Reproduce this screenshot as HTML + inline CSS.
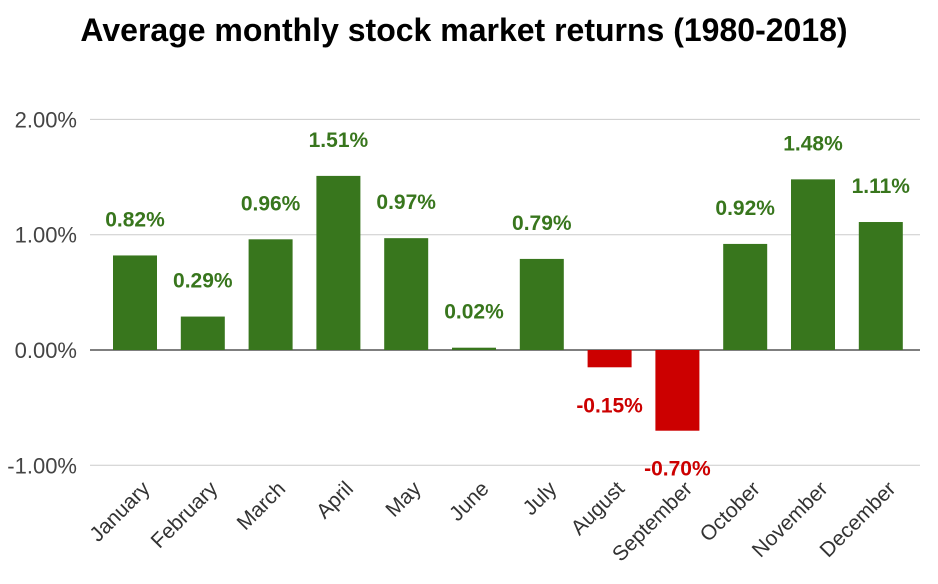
<!DOCTYPE html>
<html><head><meta charset="utf-8"><style>
html,body{margin:0;padding:0;background:#fff;}
svg{display:block;font-family:"Liberation Sans",Arial,sans-serif;}
</style></head><body>
<svg id="chart" width="938" height="584">
<text x="464" y="41" text-anchor="middle" font-size="32" font-weight="bold" fill="#000">Average monthly stock market returns (1980-2018)</text>
<g id="grid"></g><g id="bars"></g><g id="labels"></g><g id="xlabels"></g>
</svg>
<script>
const categories=["January","February","March","April","May","June","July","August","September","October","November","December"];
const values=[0.82,0.29,0.96,1.51,0.97,0.02,0.79,-0.15,-0.70,0.92,1.48,1.11];
const valueLabels=["0.82%","0.29%","0.96%","1.51%","0.97%","0.02%","0.79%","-0.15%","-0.70%","0.92%","1.48%","1.11%"];
const ticks=[2,1,0,-1];
const tickLabels=["2.00%","1.00%","0.00%","-1.00%"];
const NS="http://www.w3.org/2000/svg";
const y=v=>350-v*115.3;
const x=i=>135+i*67.8;
const BW=44;
function mk(t,a,p){const e=document.createElementNS(NS,t);for(const k in a)e.setAttribute(k,a[k]);p.appendChild(e);return e;}
const grid=document.getElementById('grid');
ticks.forEach((t,i)=>{
 const l=mk('line',{x1:90,x2:920,y1:y(t),y2:y(t),stroke:t===0?'#555':'#ccc','stroke-width':t===0?1.5:1},grid);
 
 
 const tx=mk('text',{x:77,y:y(t)+8,'text-anchor':'end','font-size':22,fill:'#444'},grid);
 tx.textContent=tickLabels[i];
 
 
});
const bars=document.getElementById('bars'),labels=document.getElementById('labels'),xl=document.getElementById('xlabels');
values.forEach((v,i)=>{
 const col=v>=0?'#38761d':'#cc0000';
 const top=Math.min(y(v),y(0)),h=Math.max(Math.abs(y(v)-y(0)),1);
 const r=mk('rect',{x:x(i)-BW/2,y:top,width:BW,height:h,fill:col},bars);
 
 
 const ly=v>=0?y(v)-29:y(v)+45;
 const t=mk('text',{x:x(i),y:ly,'text-anchor':'middle','font-size':21,'font-weight':'bold',fill:col},labels);
 t.textContent=valueLabels[i];
 
 
 const c=mk('text',{x:0,y:0,'text-anchor':'end','font-size':21,fill:'#333',transform:`translate(${x(i)+16},${490}) rotate(-45)`},xl);
 c.textContent=categories[i];
 
 
});
</script>
</body></html>
